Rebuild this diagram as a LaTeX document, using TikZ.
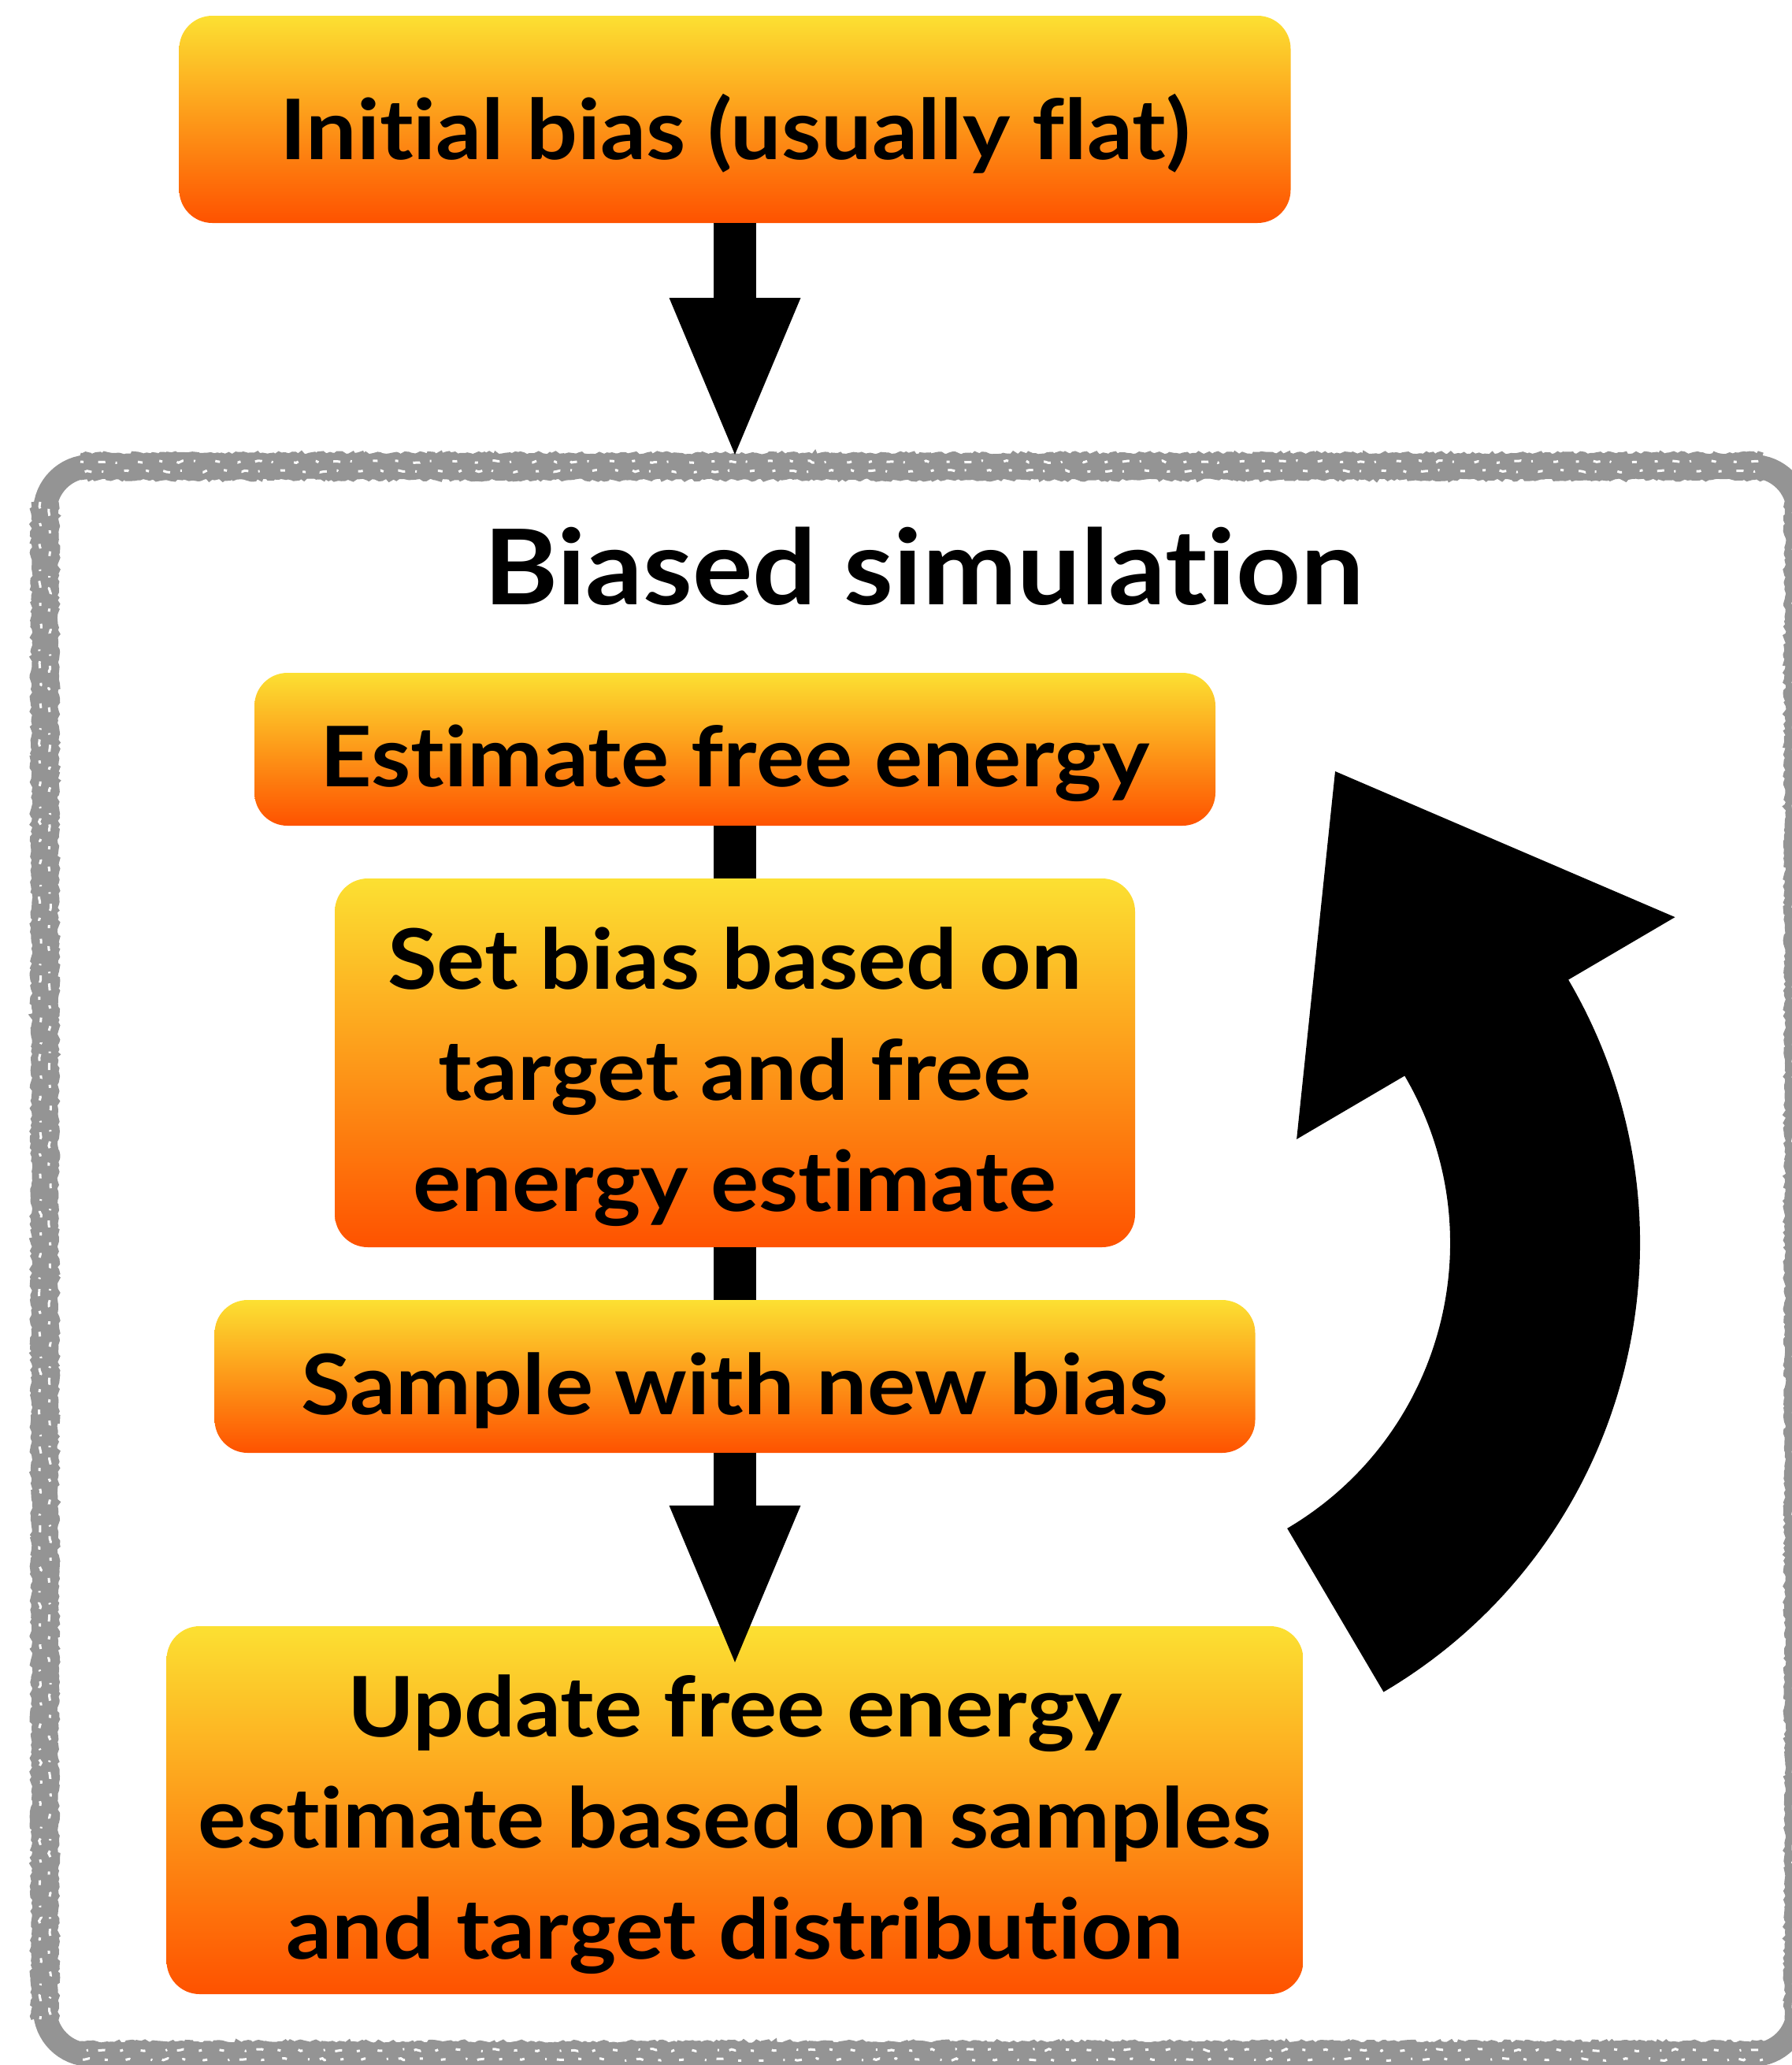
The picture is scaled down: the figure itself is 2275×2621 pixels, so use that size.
\documentclass[tikz,border=0pt]{standalone}
\usepackage{fontspec}
\setmainfont{Lato}[Ligatures=NoCommon, FakeStretch=1.08]
\usetikzlibrary{arrows.meta,calc,decorations.pathmorphing}

\definecolor{boxtop}{RGB}{252,224,50}
\definecolor{boxbot}{RGB}{254,82,0}
\definecolor{bordergray}{RGB}{148,148,148}

\begin{document}
\begin{tikzpicture}[x=1pt,y=-1pt,
  stagebox/.style={rectangle, rounded corners=42pt, top color=boxtop,
    bottom color=boxbot, draw=none, inner sep=0pt},
  stagetext/.style={font=\bfseries\fontsize{106}{141}\selectfont,
    align=center, text=black, inner sep=0pt},
  shaft/.style={line width=54pt, black},
  bigarrow/.style={shaft, -{Triangle[length=199pt,width=167pt,line width=0pt]}},
  roughedge/.style={bordergray, line width=5pt, decorate,
    decoration={random steps, segment length=4pt, amplitude=2pt}},
  speckle/.style={white, line width=3pt, decorate,
    decoration={random steps, segment length=5pt, amplitude=1.5pt},
    dash pattern=on 4pt off 19pt on 9pt off 13pt on 2pt off 27pt on 6pt off 23pt},
]
\useasboundingbox (0,0) rectangle (2275,2621);

% container of the iterative loop, drawn as a rough chalk-like frame
\node[draw=bordergray, line width=30pt, rounded corners=58pt,
      minimum width=2226pt, minimum height=2016pt, inner sep=0pt]
      (sim) at (1170,1600) {};
\foreach \d in {0,30}{
  \draw[roughedge] ([shift={(60pt,-\d*1pt)}]sim.north west) -- ([shift={(-60pt,-\d*1pt)}]sim.north east);
  \draw[roughedge] ([shift={(-\d*1pt,-60pt)}]sim.north east) -- ([shift={(-\d*1pt,60pt)}]sim.south east);
  \draw[roughedge] ([shift={(-60pt,\d*1pt)}]sim.south east) -- ([shift={(60pt,\d*1pt)}]sim.south west);
  \draw[roughedge] ([shift={(\d*1pt,60pt)}]sim.south west) -- ([shift={(\d*1pt,-60pt)}]sim.north west);
}
\foreach \d/\ph in {9/0,21/17}{
  \draw[speckle, dash phase=\ph pt] ([shift={(60pt,-\d*1pt)}]sim.north west) -- ([shift={(-60pt,-\d*1pt)}]sim.north east);
  \draw[speckle, dash phase=\ph pt] ([shift={(-\d*1pt,-60pt)}]sim.north east) -- ([shift={(-\d*1pt,60pt)}]sim.south east);
  \draw[speckle, dash phase=\ph pt] ([shift={(-60pt,\d*1pt)}]sim.south east) -- ([shift={(60pt,\d*1pt)}]sim.south west);
  \draw[speckle, dash phase=\ph pt] ([shift={(\d*1pt,60pt)}]sim.south west) -- ([shift={(\d*1pt,-60pt)}]sim.north west);
}

\node[font=\bfseries\fontsize{132.6}{160}\selectfont, inner sep=0pt, anchor=base]
  (title) at (1173,767) {Biased simulation};

% stages
\node[stagebox, minimum width=1411pt, minimum height=263pt] (b1) at (933,151.5) {};
\node[stagebox, minimum width=1220pt, minimum height=194pt] (b2) at (933,951) {};
\node[stagebox, minimum width=1016pt, minimum height=468pt] (b3) at (933,1349) {};
\node[stagebox, minimum width=1321pt, minimum height=194pt] (b4) at (933,1747) {};
\node[stagebox, minimum width=1443pt, minimum height=467pt] (b5) at (933,2297.5) {};

\node[stagetext] (t1) at ([yshift=-18pt]b1.center) {Initial bias (usually flat)};
\node[stagetext] (t2) at ([yshift=-18pt]b2.center) {Estimate free energy};
\node[stagetext] (t3) at ([yshift=-18pt]b3.center) {Set bias based on\\target and free\\energy estimate};
\node[stagetext] (t4) at ([yshift=-18pt]b4.center) {Sample with new bias};
\node[stagetext] (t5) at ([yshift=-18pt]b5.center) {Update free energy\\estimate based on samples\\and target distribution};

% connectors
\draw[bigarrow] (b1.south) -- (b1.south |- sim.north);
\draw[shaft] (b2.south) -- (b3.north);
\draw[shaft] (b3.south) -- (b4.north);
\draw[bigarrow, shorten >=-46pt] (b4.south) -- (b5.north);

% loop-back arrow
\coordinate (loopc) at (1421,1578);
\fill[black]
  ($(loopc)+(-59.5:661pt)$) arc[start angle=-59.5, end angle=30.4, radius=661pt]
  -- ($(loopc)+(30.4:818pt)$)
  -- ($(loopc)+(30.4:539.5pt)+(120.4:378pt)$)
  -- ($(loopc)+(30.4:261pt)$)
  -- ($(loopc)+(30.4:420pt)$)
  arc[start angle=30.4, end angle=-59.5, radius=420pt] -- cycle;
\end{tikzpicture}
\end{document}
